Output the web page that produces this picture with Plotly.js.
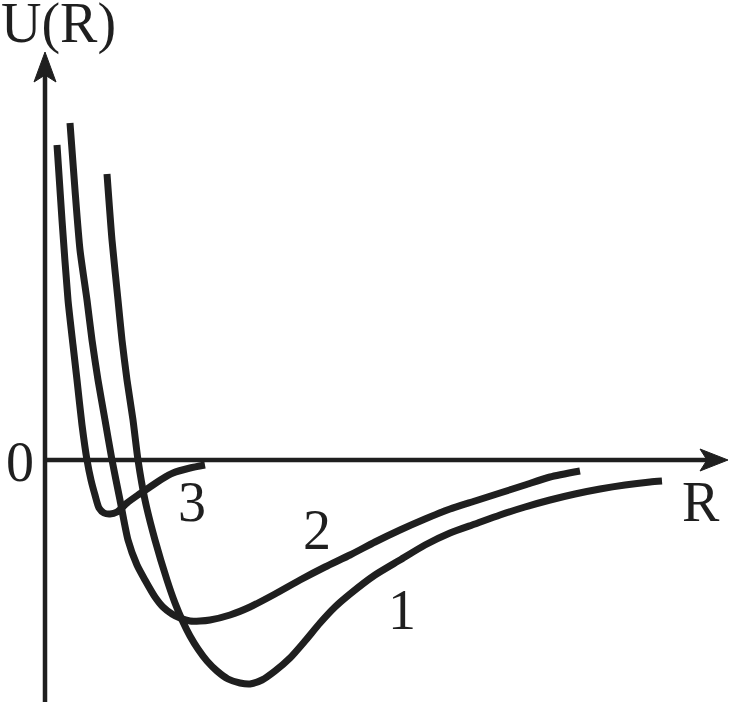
<!DOCTYPE html>
<html>
<head>
<meta charset="utf-8">
<script src="https://cdn.plot.ly/plotly-3.0.1.min.js"></script>
<style>html,body{margin:0;padding:0;background:#fff;}#chart{width:730px;height:702px;}</style>
</head>
<body>
<div id="chart"></div>
<script>
// Curve 1 (deepest well, largest R0)
var r1 = [0.62,0.67,0.73,0.77,0.82,0.88,0.93,1.00,1.10,1.22,1.30,1.38,1.45,1.53,1.62,1.72,1.83,1.95,2.05,2.17,2.30,2.45,2.60,2.75,2.90,3.05,3.30,3.55,3.80,4.05,4.30,4.55,4.80,5.05,5.30,5.55,5.80,6.05,6.17];
var u1 = [2.86,2.20,1.60,1.20,0.80,0.40,0.00,-0.40,-0.80,-1.20,-1.43,-1.62,-1.76,-1.89,-2.01,-2.11,-2.19,-2.23,-2.24,-2.20,-2.11,-1.98,-1.81,-1.63,-1.47,-1.34,-1.15,-1.00,-0.85,-0.73,-0.64,-0.55,-0.47,-0.40,-0.34,-0.29,-0.25,-0.22,-0.21];
// Curve 2
var r2 = [0.25,0.30,0.35,0.42,0.47,0.53,0.60,0.67,0.75,0.83,0.92,1.00,1.10,1.18,1.27,1.35,1.45,1.55,1.65,1.85,2.05,2.30,2.55,2.80,3.05,3.30,3.55,3.80,4.05,4.30,4.55,4.80,5.05,5.35];
var u2 = [3.37,2.70,2.10,1.60,1.20,0.80,0.40,0.00,-0.40,-0.80,-1.05,-1.20,-1.37,-1.47,-1.54,-1.58,-1.61,-1.61,-1.60,-1.55,-1.47,-1.34,-1.20,-1.07,-0.95,-0.82,-0.70,-0.59,-0.49,-0.41,-0.33,-0.25,-0.17,-0.11];
// Curve 3 (shallow well, smallest R0)
var r3 = [0.12,0.17,0.23,0.28,0.32,0.37,0.42,0.46,0.50,0.54,0.59,0.65,0.72,0.82,0.93,1.05,1.17,1.28,1.45,1.60];
var u3 = [3.15,2.40,1.60,1.15,0.80,0.35,0.00,-0.20,-0.35,-0.48,-0.53,-0.54,-0.52,-0.43,-0.35,-0.27,-0.19,-0.13,-0.08,-0.05];

var curveLabels = ["1","2","3"];
var labelR = [3.57,2.72,1.47];
var labelU = [-1.50,-0.70,-0.42];

var ink = "#1f1f1f";
var lineStyle = {color: ink, width: 7, shape: "spline", smoothing: 0.6};

var traces = [
  {x: r1, y: u1, mode: "lines", line: lineStyle, hoverinfo: "skip"},
  {x: r2, y: u2, mode: "lines", line: lineStyle, hoverinfo: "skip"},
  {x: r3, y: u3, mode: "lines", line: lineStyle, hoverinfo: "skip"}
];

var fnt = {family: "Liberation Serif, Times New Roman, serif", size: 56, color: ink};
var annotations = [];
for (var i = 0; i < curveLabels.length; i++) {
  annotations.push({x: labelR[i], y: labelU[i], xref: "x", yref: "y", text: curveLabels[i], showarrow: false, font: fnt, xanchor: "center", yanchor: "middle"});
}
annotations.push({x: 0.13, y: 4.37, xref: "x", yref: "y", text: "U(R)", showarrow: false, font: fnt, xanchor: "center", yanchor: "middle"});
annotations.push({x: -0.25, y: -0.02, xref: "x", yref: "y", text: "0", showarrow: false, font: fnt, xanchor: "center", yanchor: "middle"});
annotations.push({x: 6.56, y: -0.42, xref: "x", yref: "y", text: "R", showarrow: false, font: fnt, xanchor: "center", yanchor: "middle"});

var shapes = [
  {type: "line", xref: "x", yref: "y", x0: 0, y0: -2.5, x1: 0, y1: 3.9, line: {color: ink, width: 4.5}},
  {type: "path", xref: "x", yref: "y", path: "M 0,4.08 L 0.11,3.78 L 0,3.85 L -0.11,3.78 Z", fillcolor: ink, line: {color: ink, width: 1}},
  {type: "line", xref: "x", yref: "y", x0: 0, y0: 0, x1: 6.7, y1: 0, line: {color: ink, width: 4.5}},
  {type: "path", xref: "x", yref: "y", path: "M 6.83,0 L 6.55,0.11 L 6.62,0 L 6.55,-0.11 Z", fillcolor: ink, line: {color: ink, width: 1}}
];

var layout = {
  width: 730, height: 702,
  margin: {l: 0, r: 0, t: 0, b: 0},
  paper_bgcolor: "#ffffff", plot_bgcolor: "#ffffff",
  showlegend: false,
  xaxis: {range: [-0.45, 6.85], visible: false, fixedrange: true},
  yaxis: {range: [-2.42, 4.60], visible: false, fixedrange: true},
  annotations: annotations,
  shapes: shapes
};

Plotly.newPlot("chart", traces, layout, {staticPlot: true, displayModeBar: false});
</script>
</body>
</html>
